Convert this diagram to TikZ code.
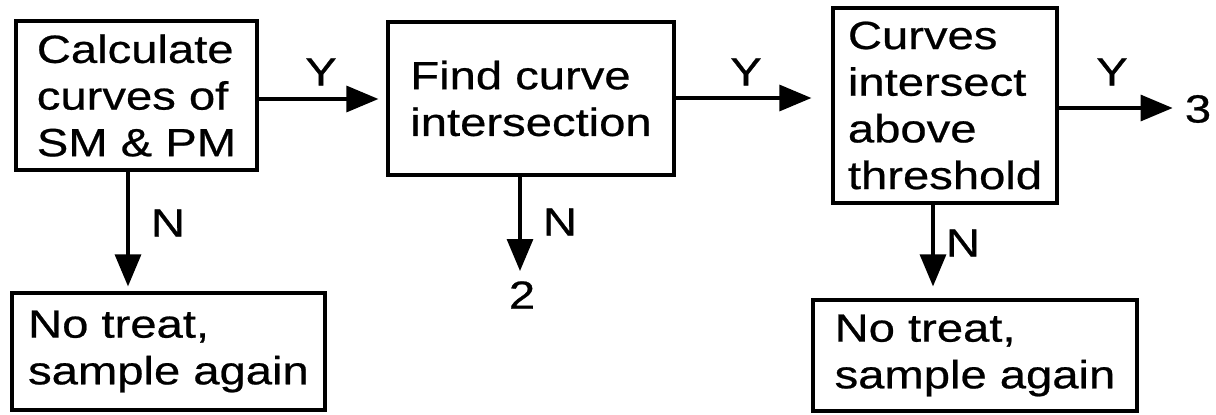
\documentclass[tikz,border=0pt]{standalone}
\usepackage{fontspec}
\setmainfont{Liberation Sans}[FakeStretch=1.2,FakeBold=0.6]
\usetikzlibrary{arrows.meta}
\begin{document}
\begin{tikzpicture}[x=0.75pt,y=-0.75pt,
  box/.style={draw, line width=2.4pt, rectangle, align=left, font=\fontsize{29.5}{35}\selectfont, inner sep=0pt},
  lbl/.style={font=\fontsize{29.5}{35}\selectfont, inner sep=0pt},
  arr/.style={line width=2.4pt, -{Triangle[length=24pt,width=19.5pt]}}]
\useasboundingbox (0,0) rectangle (1216,414);
\node[box, minimum width=180.75pt, minimum height=111.75pt] (b1) at (136.5,95.5) {Calculate\\curves of\\SM \& PM};
\node[box, minimum width=214.5pt, minimum height=114.75pt] (b2) at (531,98.5) {Find curve\\intersection};
\node[box, minimum width=168pt, minimum height=146.25pt] (b3) at (945,105.5) {Curves\\intersect\\above\\threshold};
\node[box, minimum width=234.75pt, minimum height=87.75pt] (b4) at (168.5,351.5) {No treat,\\sample again};
\node[box, minimum width=243pt, minimum height=83.25pt] (b5) at (975,355.5) {No treat,\\sample again};
\node[lbl] (t3) at (1198,109) {3};
\node[lbl] (t2) at (522,295) {2};
\node[lbl] (y1) at (321,72) {Y};
\node[lbl] (y2) at (746,72) {Y};
\node[lbl] (y3) at (1112,72) {Y};
\node[lbl] (n1) at (168,223) {N};
\node[lbl] (n2) at (560,222) {N};
\node[lbl] (n3) at (963,243) {N};
\draw[arr, shorten >=6pt] (b1.east |- 0,99) -- (b2.west |- 0,99);
\draw[arr, shorten >=15pt] (b2.east |- 0,98) -- (b3.west |- 0,98);
\draw[arr, shorten >=9pt] (b3.east |- 0,108) -- (t3.west |- 0,108);
\draw[arr, shorten >=3.75pt] (b1.south -| 128,0) -- (b4.north -| 128,0);
\draw[arr, shorten >=7.5pt] (b2.south -| 520,0) -- (t2.north -| 520,0);
\draw[arr, shorten >=9pt] (b3.south -| 933,0) -- (b5.north -| 933,0);
\end{tikzpicture}
\end{document}
